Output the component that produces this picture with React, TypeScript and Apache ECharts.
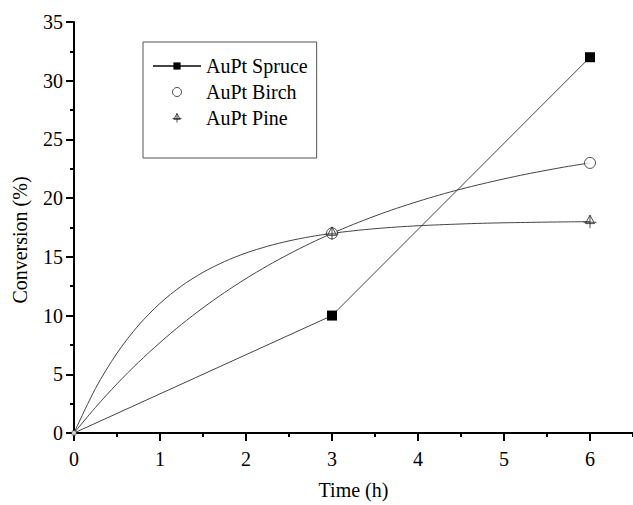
import React, { useEffect, useRef } from "react";
import * as echarts from "echarts";

const timeH = [0, 3, 6];
const spruceConv = [0, 10, 32];
const birchConv = [0, 17, 23];
const pineConv = [0, 17, 18];

// fitted curves (every 0.25 h)
const fitTime = [0, 0.25, 0.5, 0.75, 1, 1.25, 1.5, 1.75, 2, 2.25, 2.5, 2.75, 3, 3.25, 3.5, 3.75, 4, 4.25, 4.5, 4.75, 5, 5.25, 5.5, 5.75, 6];
const birchFit = [0, 2.18, 4.19, 6.02, 7.7, 9.25, 10.66, 11.96, 13.15, 14.24, 15.24, 16.16, 17.0, 17.77, 18.48, 19.13, 19.72, 20.27, 20.77, 21.22, 21.64, 22.03, 22.38, 22.71, 23.0];
const pineFit = [0, 3.8, 6.8, 9.17, 11.04, 12.52, 13.68, 14.6, 15.33, 15.9, 16.36, 16.72, 17.0, 17.22, 17.4, 17.54, 17.65, 17.73, 17.8, 17.86, 17.9, 17.93, 17.96, 17.98, 18.0];

const seriesNames = ["AuPt Spruce", "AuPt Birch", "AuPt Pine"];
const xTitle = "Time (h)";
const yTitle = "Conversion (%)";

const FONT = "'Liberation Serif', 'Times New Roman', serif";
const PINE_SYMBOL = "path://M10,0 L17,13 L3,13 Z M10,0 L10,20 M0,11 L20,11";

export default function App() {
  const ref = useRef<HTMLDivElement>(null);
  useEffect(() => {
    if (!ref.current) return;
    const chart = echarts.init(ref.current, null, { renderer: "svg" });
    const pairs = (xs: number[], ys: number[]) => xs.map((x, i) => [x, ys[i]]);
    const axisLine = { show: true, lineStyle: { color: "#000", width: 2 } };
    const openStyle = { color: "rgba(255,255,255,0)", borderColor: "#222", borderWidth: 1 };
    chart.setOption({
      animation: false,
      backgroundColor: "#fff",
      grid: { left: 74, right: 0, top: 22, bottom: 68, containLabel: false },
      legend: {
        orient: "vertical",
        left: 143,
        top: 42,
        padding: [14, 9, 30, 9],
        borderColor: "#555",
        borderWidth: 1,
        itemWidth: 48,
        itemHeight: 9,
        itemGap: 6,
        data: [
          { name: seriesNames[0] },
          { name: seriesNames[1], itemStyle: openStyle },
          { name: seriesNames[2], itemStyle: openStyle },
        ],
        textStyle: { fontFamily: FONT, fontSize: 20, color: "#000" },
      },
      xAxis: [
        {
          type: "value",
          position: "bottom",
          min: 0,
          max: 6.5,
          interval: 1,
          axisLine,
          axisTick: { show: true, length: 8, lineStyle: { color: "#000", width: 2 } },
          axisLabel: {
            margin: 16,
            fontFamily: FONT,
            fontSize: 20,
            color: "#000",
            showMaxLabel: false,
            formatter: (v: number) => (Number.isInteger(v) ? String(v) : ""),
          },
          splitLine: { show: false },
          name: xTitle,
          nameLocation: "middle",
          nameGap: 47,
          nameTextStyle: { fontFamily: FONT, fontSize: 20, color: "#000" },
        },
        {
          type: "value",
          position: "bottom",
          min: 0,
          max: 6.5,
          interval: 0.5,
          axisLine: { show: false },
          axisTick: { show: true, length: 4, lineStyle: { color: "#000", width: 2 } },
          axisLabel: { show: false },
          splitLine: { show: false },
        },
      ],
      yAxis: {
        type: "value",
        min: 0,
        max: 35,
        interval: 5,
        axisLine,
        axisTick: { show: true, length: 8, lineStyle: { color: "#000", width: 2 } },
        minorTick: { show: true, splitNumber: 2, length: 4, lineStyle: { color: "#000", width: 2 } },
        axisLabel: { margin: 11, fontFamily: FONT, fontSize: 20, color: "#000" },
        splitLine: { show: false },
      },
      graphic: [
        {
          type: "text",
          x: 20,
          y: 240,
          rotation: Math.PI / 2,
          style: {
            text: yTitle,
            align: "center",
            verticalAlign: "middle",
            fontFamily: FONT,
            fontSize: 20,
            fill: "#000",
          },
        },
      ],
      series: [
        {
          name: "Birch fit",
          type: "line",
          data: pairs(fitTime, birchFit),
          smooth: 0.3,
          showSymbol: false,
          symbol: "none",
          lineStyle: { color: "#444", width: 1 },
          z: 1,
        },
        {
          name: "Pine fit",
          type: "line",
          data: pairs(fitTime, pineFit),
          smooth: 0.3,
          showSymbol: false,
          symbol: "none",
          lineStyle: { color: "#444", width: 1 },
          z: 1,
        },
        {
          name: seriesNames[0],
          type: "line",
          data: pairs(timeH, spruceConv).map((p, i) =>
            i === 0 ? { value: p, symbol: "none" } : { value: p }
          ),
          symbol: "rect",
          symbolSize: 10,
          showAllSymbol: true,
          lineStyle: { color: "#444", width: 1 },
          itemStyle: { color: "#000" },
          z: 3,
        },
        {
          name: seriesNames[1],
          type: "scatter",
          data: pairs(timeH, birchConv).map((p, i) =>
            i === 0 ? { value: p, symbolSize: 5 } : { value: p }
          ),
          symbol: "circle",
          symbolSize: 11,
          itemStyle: { color: "#fff", borderColor: "#222", borderWidth: 1 },
          z: 4,
        },
        {
          name: seriesNames[2],
          type: "scatter",
          data: pairs(timeH, pineConv).map((p, i) =>
            i === 0 ? { value: p, symbol: "none" } : { value: p }
          ),
          symbol: PINE_SYMBOL,
          symbolSize: 13,
          symbolKeepAspect: true,
          itemStyle: openStyle,
          z: 4,
        },
      ],
    });
    return () => chart.dispose();
  }, []);
  return (
    <div
      ref={ref}
      style={{ position: "absolute", left: 0, top: 0, width: 633, height: 505 }}
    />
  );
}
